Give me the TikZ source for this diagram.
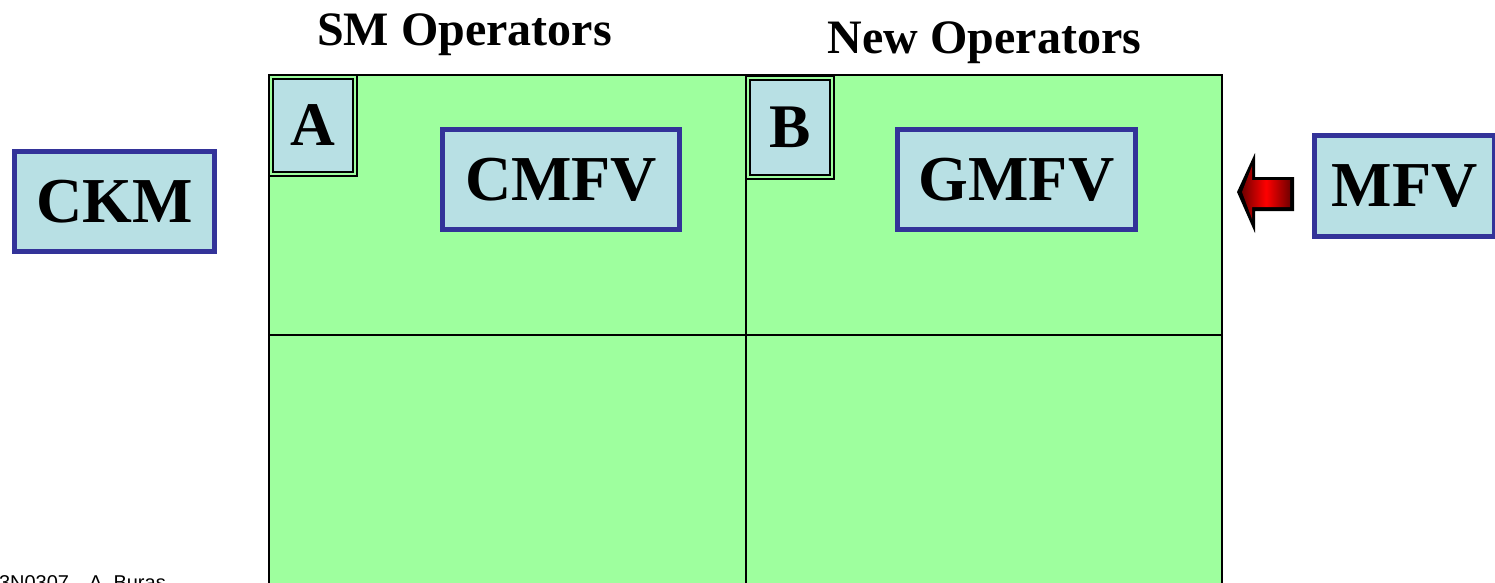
\documentclass[tikz,border=0pt]{standalone}
\usepackage{fontspec}
\setmainfont{Liberation Serif}
\setsansfont{Liberation Sans}
\definecolor{cellgreen}{RGB}{158,255,158}
\definecolor{tagblue}{RGB}{184,224,228}
\definecolor{frameblue}{RGB}{51,51,153}
\tikzset{
  grid line/.style={draw=black, line width=1.4pt},
  labelbox/.style={fill=tagblue, draw=frameblue, line width=4.5pt,
    inner sep=0pt, font=\fontsize{64}{64}\selectfont\bfseries},
  cornerbox/.style={fill=tagblue, draw=black, line width=2pt,
    double=cellgreen, double distance=2.4pt, inner sep=0pt,
    minimum width=83.5pt, font=\fontsize{62}{62}\selectfont\bfseries},
  heading/.style={anchor=base, inner sep=0pt,
    font=\fontsize{48}{48}\selectfont\bfseries},
}
\begin{document}
\begin{tikzpicture}[x=1pt, y=-1pt]
\useasboundingbox (0,0) rectangle (1495,582);
\clip (0,0) rectangle (1495,582);

% column headings
\node[heading] (smhead) at (464.5,45) {SM Operators};
\node[heading] (newhead) at (984.5,53) {New Operators};

% four green cells
\fill[cellgreen] (269,75) rectangle (1222,600);
\draw[grid line] (269,75) rectangle (1222,600);
\draw[grid line] (746,75) -- (746,600);
\draw[grid line] (269,335) -- (1222,335);

% corner tags
\node[cornerbox, minimum height=96.5pt] (A) at (313,125.5) {A};
\node[cornerbox, minimum height=98.5pt] (B) at (790,127.5) {B};

% labelled boxes
\node[labelbox, minimum width=200pt, minimum height=100pt] (ckm) at (114.5,201.5) {CKM};
\node[labelbox, minimum width=237pt, minimum height=100pt] (cmfv) at (561,179.5) {CMFV};
\node[labelbox, minimum width=238pt, minimum height=100pt] (gmfv) at (1016.5,179.5) {GMFV};
\node[labelbox, minimum width=180pt, minimum height=101pt] (mfv) at (1404.5,186) {MFV};

% block arrow pointing from MFV into the new-operator column
\fill[black] (1237,192) -- (1255,153) -- (1255,177) -- (1294,177)
  -- (1294,211) -- (1255,211) -- (1255,233) -- cycle;
\shade[left color=red!45!black, right color=red!45!black, middle color=red]
  (1242,192) -- (1252,166) -- (1252,180) -- (1290,180)
  -- (1290,207) -- (1252,207) -- (1252,219) -- cycle;

% footer, cut at the lower edge
\node[anchor=base east, inner sep=0pt, font=\sffamily\fontsize{20}{20}\selectfont]
  (footer) at (166,589) {3N0307\quad A. Buras};
\end{tikzpicture}
\end{document}
